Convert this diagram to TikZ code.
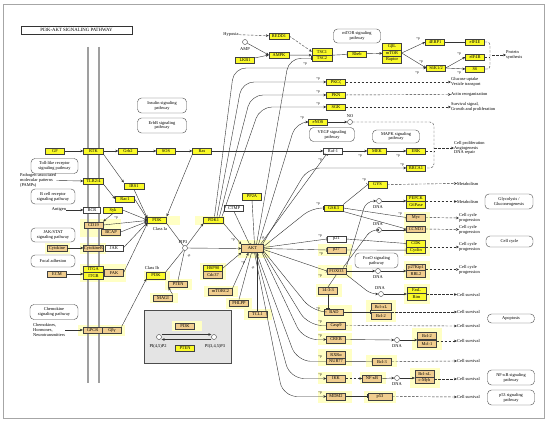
\documentclass[tikz,border=0pt]{standalone}
\usepackage{fontspec}
\setmainfont{Liberation Serif}
\usetikzlibrary{arrows.meta}
\definecolor{kyel}{HTML}{FAFA28}
\definecolor{ktan}{HTML}{F0CD8E}
\definecolor{khl}{HTML}{FFFFC4}
\definecolor{kbox}{HTML}{E4E4E4}
\newcommand\kgf{\fontsize{4.4}{4.9}\selectfont}
\newcommand\kpf{\fontsize{3.6}{4}\selectfont}
\tikzset{
 gene/.style={draw=black!75, line width=0.35pt, minimum width=19pt, minimum height=6.6pt, inner sep=0pt, font=\kgf},
 gy/.style={gene, fill=kyel},
 gt/.style={gene, fill=ktan},
 gw/.style={gene, fill=white},
 pw/.style={draw=black!70, line width=0.4pt, rounded corners=4pt, align=center, inner sep=0pt, font=\kgf, fill=white},
 tx/.style={align=left, inner sep=0pt, font=\kgf, anchor=west},
 txc/.style={align=center, inner sep=0pt, font=\kgf},
 cpd/.style={circle, draw=black!75, fill=white, minimum size=5pt, inner sep=0pt, line width=0.4pt},
 pl/.style={font=\kpf, inner sep=0pt},
 ln/.style={draw=black!80, line width=0.4pt},
 act/.style={ln, -{Stealth[length=3pt,width=2.6pt]}},
 inh/.style={ln, -{Bar[width=4pt]}},
 dln/.style={ln, dash pattern=on 2.5pt off 1.5pt},
 dact/.style={act, dash pattern=on 2.5pt off 1.5pt},
 hl/.style={fill=khl, draw=none},
 memb/.style={draw=gray!75, line width=1.3pt},
}
\begin{document}
\begin{tikzpicture}[x=1pt,y=-1pt]
\useasboundingbox (0,0) rectangle (550,425);
\fill[white] (0,0) rectangle (550,425);
\draw[gray!70, line width=0.8pt] (3,4) rectangle (544,418);
\node[draw=black!80, line width=0.5pt, minimum width=111pt, minimum height=8pt, inner sep=0pt, font=\fontsize{4.8}{5}\selectfont] (title) at (76.5,30) {PI3K-AKT SIGNALING PATHWAY};

% highlights
\fill[hl] (147,216) rectangle (180,225);
\fill[hl] (195,216) rectangle (225,225);
\fill[hl] (238,240) rectangle (270,258);
\fill[hl] (80,219) rectangle (121,237);
\fill[hl] (45,243) rectangle (70,254);
\fill[hl] (80,243) rectangle (106,254);
\fill[hl] (80,264) rectangle (126,282);
\fill[hl] (78,325) rectangle (125,336);
\fill[hl] (144,271) rectangle (170,281);
\fill[hl] (165,279) rectangle (192,290);
\fill[hl] (150,293) rectangle (178,303);
\fill[hl] (200,263) rectangle (226,280);
\fill[hl] (204,286) rectangle (238,297);
\fill[hl] (226,298) rectangle (252,309);
\fill[hl] (244,309) rectangle (272,320);
\fill[hl] (318,244) rectangle (352,256);
\fill[hl] (318,265) rectangle (352,278);
\fill[hl] (316,284) rectangle (342,297);
\fill[hl] (318,305) rectangle (352,319);
\fill[hl] (318,319) rectangle (352,331);
\fill[hl] (318,333) rectangle (352,345);
\fill[hl] (318,349) rectangle (352,366);
\fill[hl] (318,372) rectangle (352,384);
\fill[hl] (318,391) rectangle (352,403);
\fill[hl] (366,300) rectangle (396,322);
\fill[hl] (366,355) rectangle (397,367);
\fill[hl] (360,372) rectangle (386,384);
\fill[hl] (364,391) rectangle (396,403);
\fill[hl] (404,212) rectangle (430,256);
\fill[hl] (404,261) rectangle (430,280);
\fill[hl] (404,284) rectangle (430,304);
\fill[hl] (412,328) rectangle (442,350);
\fill[hl] (410,368) rectangle (440,388);

% membrane
\draw[memb] (88,47) -- (88,383);
\draw[memb] (99,47) -- (99,383);

% ---------- top ----------
\node[txc] (hyp) at (231,34.5) {Hypoxia};
\node[gy, minimum width=20pt] (redd1) at (279,36) {REDD1};
\node[cpd] (amp) at (245,42) {};
\node[txc] (amplab) at (245,49) {AMP};
\node[gy] (lkb1) at (245,60) {LKB1};
\node[gy, minimum width=20pt] (ampk) at (279,55) {AMPK};
\node[gy, minimum width=20pt] (tsc1) at (322,51.7) {TSC1};
\node[gy, minimum width=20pt] (tsc2) at (322,58.3) {TSC2};
\node[gy] (rheb) at (357,54) {Rheb};
\node[gy] (gbl) at (392,46.4) {GβL};
\node[gy] (mtor) at (392,53) {mTOR};
\node[gy] (raptor) at (392,59.6) {Raptor};
\node[pw, minimum width=47pt, minimum height=14pt] (mtorpw) at (357,36) {mTOR signaling\\pathway};
\node[gy] (ebp) at (435,42) {4EBP1};
\node[gy] (eif4e) at (475,42) {eIF4E};
\node[gy] (s6k) at (436,68) {S6K1/2};
\node[gy] (eif4b) at (475,57) {eIF4B};
\node[gy] (s6) at (475,69) {S6};
\node[tx] (prot) at (506,55) {Protein\\synthesis};
\node[gy] (pkcz) at (336,82) {PKCζ};
\node[gy] (pkn) at (336,95) {PKN};
\node[gy] (sgk) at (336,107) {SGK};
\node[tx] (glu) at (451,82) {Glucose uptake\\Vesicle transport};
\node[tx] (actin) at (451,94.5) {Actin reorganization};
\node[tx] (surv) at (451,107) {Survival signal,\\Growth and proliferation};
\node[gy] (enos) at (318,122) {eNOS};
\node[cpd] (no) at (350,122) {};
\node[txc] (nolab) at (350,116) {NO};
\node[pw, minimum width=45pt, minimum height=14pt] (vegf) at (332,134.5) {VEGF signaling\\pathway};
\node[pw, minimum width=47pt, minimum height=13pt] (mapk) at (396,136.5) {MAPK signaling\\pathway};
\node[pw, minimum width=49pt, minimum height=15pt] (insul) at (162,105.5) {Insulin signaling\\pathway};
\node[pw, minimum width=49pt, minimum height=15pt] (erbb) at (162,125.5) {ErbB signaling\\pathway};

% ---------- row 151 ----------
\node[gy] (gf) at (55,151) {GF};
\node[gy, minimum width=20pt] (rtk) at (93.5,151) {RTK};
\node[gy] (grb2) at (128,151) {Grb2};
\node[gy] (sos) at (166,151) {SOS};
\node[gy] (ras) at (202,151) {Ras};
\node[gw] (raf1) at (333,151) {Raf-1};
\node[gy] (mek) at (377,151) {MEK};
\node[gy] (erk) at (416,151) {ERK};
\node[gy] (brca1) at (416,168) {BRCA1};
\node[tx] (prolif) at (454,148) {Cell proliferation\\Angiogenesis\\DNA repair};

% ---------- left ----------
\node[pw, minimum width=47pt, minimum height=15pt] (toll) at (54.5,166) {Toll-like receptor\\signaling pathway};
\node[tx] (pamps) at (20,180.5) {Pathogen-associated\\molecular patterns\\(PAMPs)};
\node[gy, minimum width=20pt] (tlr) at (93.5,181) {TLR2/4};
\node[gy, minimum width=20pt] (irs1) at (134,186) {IRS1};
\node[gy] (rac1) at (125,199) {Rac1};
\node[pw, minimum width=44pt, minimum height=15pt] (bcell) at (53,196.5) {B cell receptor\\signaling pathway};
\node[txc] (antigen) at (59,210) {Antigen};
\node[gw, minimum width=17pt] (bcr) at (92,210) {BCR};
\node[gy] (syk) at (113,210) {Syk};
\node[gt] (cd19) at (93.5,225) {CD19};
\node[gt] (bcap) at (111,232) {BCAP};
\node[pw, minimum width=44pt, minimum height=14pt] (jakstat) at (53,235) {JAK/STAT\\signaling pathway};
\node[gt, minimum width=20pt] (cytok) at (57,248) {Cytokine};
\node[gt, minimum width=20pt] (cytokr) at (93.5,248) {CytokineR};
\node[gw, minimum width=18pt] (jak) at (114,248) {JAK};
\node[pw, minimum width=44pt, minimum height=12pt] (focal) at (53,261) {Focal adhesion};
\node[gt] (ecm) at (57,274) {ECM};
\node[gy, minimum width=20pt] (itga) at (93.5,269.3) {ITGA};
\node[gy, minimum width=20pt] (itgb) at (93.5,275.9) {ITGB};
\node[gt] (fak) at (114,272.6) {FAK};
\node[pw, minimum width=48pt, minimum height=15pt] (chemo) at (54,312) {Chemokine\\signaling pathway};
\node[tx] (chemtx) at (33,330) {Chemokines,\\Hormones,\\Neurotransmitters};
\node[gt] (gpcr) at (92.5,330) {GPCR};
\node[gt] (gbg) at (112,330) {Gβγ};

% ---------- center ----------
\node[gy] (pi3ka) at (157,220) {PI3K};
\node[txc] (classia) at (160,229) {Class Ia};
\node[gy, minimum width=20pt] (pdk1) at (213.5,220) {PDK1};
\node[cpd] (pip3) at (185,248) {};
\node[txc] (pip3lab) at (183,242) {PIP3};
\node[pl] (pip3p) at (189,256) {-p};
\node[gw] (ctmp) at (234,208) {CTMP};
\node[gy] (pp2a) at (252,196.5) {PP2A};
\node[gt, minimum width=22pt, minimum height=8pt] (akt) at (252.5,248.5) {AKT};
\node[gy] (pi3kb) at (156,275.5) {PI3K};
\node[txc] (classib) at (152,268) {Class Ib};
\node[gt] (pten) at (178,284) {PTEN};
\node[gt] (magi) at (163,298) {MAGI};
\node[gy] (hsp90) at (213,268.3) {HSP90};
\node[gt] (cdc37) at (213,274.9) {Cdc37};
\node[gt, minimum width=24pt] (mtorc2) at (220.5,291.5) {mTORC2};
\node[gt] (phlpp) at (239,303) {PHLPP};
\node[gt] (tcl1) at (257.5,314) {TCL1};

% gray box
\node[draw=black!70, fill=kbox, line width=0.8pt, minimum width=87pt, minimum height=53pt, inner sep=0pt] (graybox) at (187.5,336.5) {};
\fill[hl] (172,321) rectangle (202,331);
\node[gt] (pi3kg) at (185,326) {PI3K};
\node[gy] (pteng) at (185,348) {PTEN};
\node[cpd] (pip2c) at (159,337) {};
\node[cpd] (pip3c) at (214,337) {};
\node[txc] (pip2lab) at (158,346.5) {PI(4,5)P2};
\node[txc] (pip3clab) at (215,346.5) {PI(3,4,5)P3};

% ---------- right ----------
\node[gy] (gys) at (377.5,184.5) {GYS};
\node[tx] (met1) at (457,183.5) {Metabolism};
\node[gy] (gsk3) at (333.5,208) {GSK3};
\node[cpd] (dna1) at (379,201) {};
\node[txc] (dna1l) at (378,207.5) {DNA};
\node[gy] (pepck) at (416,198) {PEPCK};
\node[gy] (g6pase) at (416,204.6) {G6Pase};
\node[tx] (met2) at (457,201.5) {Metabolism};
\node[pw, minimum width=48pt, minimum height=15pt] (glyco) at (509,201.5) {Glycolysis /\\Gluconeogenesis};
\node[gt] (myc) at (416,217.5) {Myc};
\node[gt] (ccnd1) at (416,229) {CCND1};
\node[tx] (cc1) at (459,218) {Cell cycle\\progression};
\node[tx] (cc2) at (459,229.5) {Cell cycle\\progression};
\node[cpd] (dna2) at (379,230) {};
\node[txc] (dna2l) at (378,224) {DNA};
\node[gw] (p21) at (336.5,239) {p21};
\node[gt] (p27) at (336.5,250) {p27};
\node[gy] (cdk) at (416,243.5) {CDK};
\node[gy] (cyclin) at (416,250.1) {Cyclin};
\node[tx] (cc3) at (459,247) {Cell cycle\\progression};
\node[pw, minimum width=47pt, minimum height=11pt] (ccpw) at (509.5,241.5) {Cell cycle};
\node[pw, minimum width=43pt, minimum height=15pt] (foxopw) at (376.5,260.5) {FoxO signaling\\pathway};
\node[gt] (foxo3) at (336.5,271) {FOXO3};
\node[cpd] (dna3) at (378,271) {};
\node[txc] (dna3l) at (378,277.5) {DNA};
\node[gt] (p27kip1) at (416,267.3) {p27Kip1};
\node[gt] (rbl2) at (416,273.9) {RBL2};
\node[tx] (cc4) at (459,269.5) {Cell cycle\\progression};
\node[gt] (p1433) at (328,290.5) {14-3-3};
\node[cpd] (dna4) at (381,294) {};
\node[txc] (dna4l) at (380,288) {DNA};
\node[gy] (fasl) at (416.5,290) {FasL};
\node[gy] (bim) at (416.5,296.6) {Bim};
\node[tx] (cs1) at (457,294.5) {Cell survival};
\node[gt] (bad) at (334,312) {BAD};
\node[gt, minimum width=20pt] (bclxl1) at (381,306.5) {Bcl-xL};
\node[gt, minimum width=20pt] (bcl2a) at (381,315.5) {Bcl-2};
\node[tx] (cs2) at (457,312) {Cell survival};
\node[pw, minimum width=47pt, minimum height=9pt] (apop) at (511,318.5) {Apoptosis};
\node[gt] (casp9) at (336,325.5) {Casp9};
\node[tx] (cs3) at (457,326) {Cell survival};
\node[gt] (creb) at (336,339.5) {CREB};
\node[cpd] (dna5) at (397,340) {};
\node[txc] (dna5l) at (397,346.5) {DNA};
\node[gt] (bcl2b) at (427,335.5) {Bcl-2};
\node[gt] (mcl1) at (427,343.5) {Mcl-1};
\node[tx] (cs4) at (457,341) {Cell survival};
\node[gt] (rxra) at (336,354.7) {RXRα};
\node[gt] (nur77) at (336,361.3) {NUR77};
\node[gt] (bcl3) at (382,361.5) {Bcl-3};
\node[tx] (cs5) at (457,361) {Cell survival};
\node[gt] (ikk) at (336,378.5) {IKK};
\node[gt] (nfkb) at (372,378.5) {NF-κB};
\node[cpd] (dna6) at (397,378) {};
\node[txc] (dna6l) at (397,384.5) {DNA};
\node[gt] (bclxl2) at (424.5,373.5) {Bcl-xL};
\node[gt] (cmyb) at (424.5,380.1) {c-Myb};
\node[tx] (cs6) at (457,379) {Cell survival};
\node[pw, minimum width=47pt, minimum height=15pt] (nfkbpw) at (511,377.5) {NF-κB signaling\\pathway};
\node[gt] (mdm2) at (336,396.5) {MDM2};
\node[gt, minimum width=24pt] (p53) at (380,396.5) {p53};
\node[tx] (cs7) at (457,397) {Cell survival};
\node[pw, minimum width=47pt, minimum height=15pt] (p53pw) at (511,397.5) {p53 signaling\\pathway};

% ---------- edges: top ----------
\draw[dact] (hyp) -- (redd1);
\draw[act] (amp) -- (ampk.west);
\draw[act] (lkb1) -- (ampk.west);
\draw[dact] (redd1.east) -- (tsc1.west);
\draw[act] (ampk) -- (tsc1.south west);
\draw[inh] (tsc1.south east) -- (rheb);
\draw[act] (rheb) -- (mtor);
\draw[act] (mtor.east) -- (ebp.west);
\draw[act] (mtor.east) -- (s6k.west);
\draw[inh] (ebp) -- (eif4e);
\draw[act] (s6k.east) -- (eif4b.west);
\draw[act] (s6k.east) -- (s6.west);
\draw[dln, rounded corners=3pt] (eif4e.east) -- (490,42) -- (490,69) -- (s6.east);
\draw[dln] (eif4b.east) -- (490,57);
\coordinate (psb) at (492,55);
\draw[dact] (psb) -- (prot.west);
\node[pl] (pa1) at (418,39) {+p};
\node[pl] (pa2) at (421,61.5) {+p};
\node[pl] (pa3) at (417,72.5) {+p};
\node[pl] (pa4) at (459,54) {+p};
\node[pl] (pa5) at (459,72.5) {+p};

% PDK1 up
\draw[act, rounded corners=12pt] ([xshift=1pt]pdk1.north) -- (234,68) -- (s6k.west);
\draw[act, rounded corners=12pt] ([xshift=3.5pt]pdk1.north) -- (242,82) -- (pkcz.west);
\draw[act, rounded corners=12pt] ([xshift=6pt]pdk1.north) -- (251,95) -- (pkn.west);
\draw[act, rounded corners=12pt] ([xshift=8.5pt]pdk1.north) -- (260,107) -- (sgk.west);
\node[pl] (pb1) at (318,79) {+p};
\node[pl] (pb2) at (318,92) {+p};
\node[pl] (pb3) at (318,104) {+p};
\draw[dact] (pkcz) -- (glu.west);
\draw[dact] (pkn) -- (actin.west);
\draw[dact] (sgk) -- (surv.west);

% AKT up
\draw[inh, rounded corners=12pt] ([xshift=4pt]akt.north) -- (289,58.3) -- (tsc2.west);
\node[pl] (pc1) at (305,64) {+p};
\draw[act, rounded corners=12pt] ([xshift=6pt]akt.north) -- (296,122) -- (enos.west);
\node[pl] (pc2) at (302,117.5) {+p};
\draw[act] (enos) -- (no);
\draw[inh] ([xshift=8pt]akt.north) -- ([xshift=3pt]raf1.south west);
\node[pl] (pc3) at (320,160) {+p};
\draw[act, rounded corners=12pt] ([xshift=10pt]akt.north) -- (308,168) -- (brca1.west);
\node[pl] (pc4) at (402,165) {+p};
\draw[inh, rounded corners=10pt] ([yshift=2pt]akt.east) -- (312,208) -- (gsk3.west);
\node[pl] (pc5) at (318,204) {+p};
\draw[inh] ([yshift=1pt]akt.east) -- (p21.west);
\node[pl] (pc6) at (320,235.5) {+p};
\draw[inh] (akt.east) -- (p27.west);
\node[pl] (pc7) at (321,254) {+p};
\draw[inh] ([yshift=-1pt]akt.east) -- (foxo3.west);
\node[pl] (pc8) at (320,276) {+p};

% AKT down
\draw[inh, rounded corners=14pt] ([yshift=-2.5pt]akt.east) -- (313,312) -- (bad.west);
\draw[inh, rounded corners=14pt] ([yshift=-3pt,xshift=-1pt]akt.east) -- (308,325.5) -- (casp9.west);
\draw[act, rounded corners=14pt] ([yshift=-3.5pt,xshift=-2pt]akt.east) -- (303,339.5) -- (creb.west);
\draw[inh, rounded corners=14pt] ([xshift=4pt]akt.south) -- (297,361.3) -- (nur77.west);
\draw[act, rounded corners=14pt] ([xshift=3pt]akt.south) -- (290,378.5) -- (ikk.west);
\draw[act, rounded corners=14pt] ([xshift=2pt]akt.south) -- (283,396.5) -- (mdm2.west);
\node[pl] (pd1) at (318,308.5) {+p};
\node[pl] (pd2) at (320,321.5) {+p};
\node[pl] (pd3) at (320,335.5) {+p};
\node[pl] (pd4) at (320,356.5) {+p};
\node[pl] (pd5) at (320,374.5) {+p};
\node[pl] (pd6) at (320,392.5) {+p};

% ERK/BRCA1/NO brace
\draw[dln, rounded corners=4pt] (no.east) -- (434,122) -- (434,168) -- (brca1.east);
\draw[dln] (erk.east) -- (434,151);
\coordinate (brk) at (434,148);
\draw[dact] (brk) -- (prolif.west);

% row 151
\draw[act] (gf) -- (rtk);
\draw[act] (rtk) -- (grb2);
\draw[act] (grb2) -- (sos);
\draw[act] (sos) -- (ras);
\draw[act] (ras) -- (raf1);
\draw[act] (raf1) -- (mek);
\draw[act] (mek) -- (erk);
\node[pl] (pe1) at (360,155.5) {+p};
\node[pl] (pe2) at (398,155.5) {+p};
\draw[act] (rtk.south east) -- (irs1.north west);

% left
\draw[act] (pamps.east) -- (tlr.west);
\draw[act] (tlr.south east) -- (rac1.west);
\draw[act] (antigen) -- (bcr);
\draw[act] (syk.south) -- (cd19.north east);
\node[pl] (pf1) at (116,218) {+p};
\draw[act] (cytok) -- (cytokr);
\draw[act] (ecm.east) -- (itgb.west |- ecm.east);
\draw[act] (chemtx.east) -- (gpcr.west);
\draw[act] (gbg.north east) -- (pi3kb.south west);

% into PI3K Ia
\draw[act] (irs1.south) -- ([yshift=2pt]pi3ka.west);
\draw[act] (rac1.east) -- ([yshift=1pt]pi3ka.west);
\draw[act] (syk.east) -- (pi3ka.west);
\draw[act] (cd19.east) -- ([yshift=-0.5pt]pi3ka.west);
\draw[act] (bcap.east) -- ([yshift=-1.5pt]pi3ka.west);
\draw[act] (jak.east) -- ([yshift=-2.5pt]pi3ka.west);
\draw[act] (fak.east) -- (pi3ka.south west);
\draw[act] (ras.south west) -- (pi3ka.north east);

% PIP3 region
\draw[ln] (pi3ka.south east) -- (pip3);
\draw[ln] (pi3kb.north east) -- (pip3);
\draw[ln] (pten.north) -- (pip3);
\draw[act] (magi.north east) -- (pten.south west);
\draw[act] (pip3) -- (pdk1.south west);
\draw[act] (pip3) -- (akt.west);
\draw[act] (pdk1.south east) -- (akt.north west);
\node[pl] (pg1) at (233,240) {+p};
\draw[inh] (ctmp.south) -- ([xshift=-3pt]akt.north);
\draw[inh] (pp2a.south) -- ([xshift=2pt]akt.north);
\node[pl] (pg2) at (263,238) {-p};
\draw[act] (hsp90.east) -- (akt.south west);
\draw[act] (mtorc2.north east) -- ([xshift=-4pt]akt.south);
\node[pl] (pg3) at (243,263) {+p};
\draw[inh] (phlpp.north) -- ([xshift=-1pt]akt.south);
\node[pl] (pg4) at (253,268) {-p};
\draw[act] (tcl1.north) -- ([xshift=5pt]akt.south);

% gray box
\draw[act] ([yshift=2.5pt]pip2c.east) -- ([yshift=2.5pt]pip3c.west);
\draw[act] ([yshift=-2.5pt]pip3c.west) -- ([yshift=-2.5pt]pip2c.east);

% right side
\draw[inh] (gsk3.north east) -- (gys.west);
\node[pl] (ph1) at (364,180) {+p};
\draw[dact] (gys.east) -- (met1.west);
\draw[inh] (gsk3.east) -- (myc.west);
\draw[inh] (gsk3.south east) -- (ccnd1.west);
\node[pl] (ph2) at (400,213.5) {+p};
\draw[act, rounded corners=8pt] (foxo3.north east) -- (366,201) -- (dna1.west);
\draw[act] (dna1.east) -- (pepck.west |- dna1);
\draw[act, rounded corners=6pt] ([xshift=-3pt]foxo3.north east) -- (371,230) -- (dna2.west);
\draw[act] (dna2.east) -- (ccnd1.west |- dna2);
\draw[inh] (p21.east) -- (cdk.west);
\draw[inh] (p27.east) -- (cyclin.west);
\draw[act] (foxo3.east) -- (dna3.west);
\draw[act] (dna3.east) -- (p27kip1.west |- dna3);
\draw[act, rounded corners=6pt] (foxo3.south east) -- (371,294) -- (dna4.west);
\draw[act] (dna4.east) -- (fasl.west |- dna4);
\draw[ln] (p1433.north) -- (foxo3.south);
\draw[inh] (p1433.south) -- (p1433.south |- bad.north);
\draw[inh] (bad.east) -- (bclxl1.west |- bad.east);
\draw[act] (creb.east) -- (dna5.west);
\draw[act] (dna5.east) -- (bcl2b.west |- dna5);
\draw[inh] (nur77.east) -- (bcl3.west);
\draw[dact] (ikk) -- (nfkb);
\draw[act] (nfkb.east) -- (dna6.west);
\draw[act] (dna6.east) -- (bclxl2.west |- dna6);
\draw[inh] (mdm2) -- (p53);

\draw[dact] (pepck.east |- met2.west) -- (met2.west);
\draw[dact] (myc.east) -- (cc1.west);
\draw[dact] (ccnd1.east) -- (cc2.west);
\draw[dact] (cdk.east |- cc3.west) -- (cc3.west);
\draw[dact] (p27kip1.east |- cc4.west) -- (cc4.west);
\draw[dact] (fasl.east |- cs1.west) -- (cs1.west);
\draw[dact] (bclxl1.east |- cs2.west) -- (cs2.west);
\draw[dact] (casp9.east) -- (cs3.west);
\draw[dact] (bcl2b.east |- cs4.west) -- (cs4.west);
\draw[dact] (bcl3.east) -- (cs5.west);
\draw[dact] (bclxl2.east |- cs6.west) -- (cs6.west);
\draw[dact] (p53.east) -- (cs7.west);
\end{tikzpicture}
\end{document}
